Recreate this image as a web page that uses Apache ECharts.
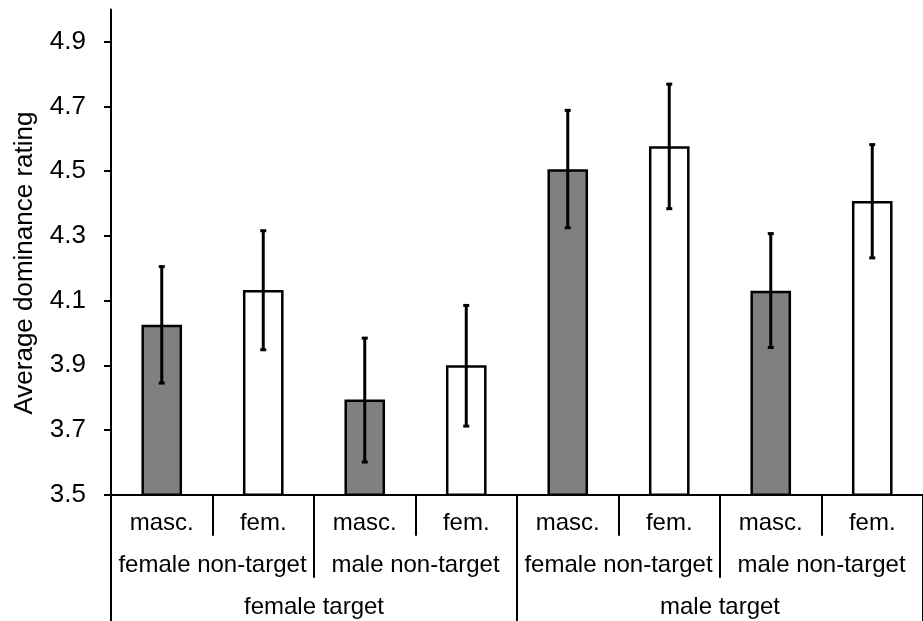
<!DOCTYPE html>
<html>
<head>
<meta charset="utf-8">
<script src="https://cdn.jsdelivr.net/npm/echarts@6/dist/echarts.min.js"></script>
<style>
  html, body { margin: 0; padding: 0; background: #fff; }
  #chart { width: 923px; height: 621px; }
</style>
</head>
<body>
<div id="chart"></div>
<script>
// bottom row: style of the non-target
const styleLabels = ['masc.', 'fem.', 'masc.', 'fem.', 'masc.', 'fem.', 'masc.', 'fem.']
// middle row: non-target gender
const nonTargetLabels = ['female non-target', 'male non-target', 'female non-target', 'male non-target']
// top row: target gender
const targetLabels = ['female target', 'male target']

const means = [4.025, 4.133, 3.794, 3.900, 4.506, 4.577, 4.130, 4.408]
const lower = [3.845, 3.948, 3.601, 3.712, 4.325, 4.384, 3.955, 4.232]
const upper = [4.205, 4.316, 3.984, 4.085, 4.688, 4.769, 4.307, 4.582]

const yTicks = [3.5, 3.7, 3.9, 4.1, 4.3, 4.5, 4.7, 4.9]

const fontFam = '"Liberation Sans", Arial, sans-serif'
const black = '#000'

const chart = echarts.init(document.getElementById('chart'))

// 柱子：masc. 灰色，fem. 白色
const barData = means.map((v, i) => ({
  value: v,
  itemStyle: { color: i % 2 === 0 ? '#808080' : '#fff' }
}))

function catAxis(data, len, margin, show) {
  return {
    type: 'category',
    data: data,
    position: 'bottom',
    boundaryGap: true,
    axisLine: { show: show, lineStyle: { color: black, width: 2 } },
    axisTick: { show: true, length: len, lineStyle: { color: black, width: 2 } },
    axisLabel: { margin: margin, fontSize: 24, color: black, fontFamily: fontFam, interval: 0 },
    splitLine: { show: false }
  }
}

chart.setOption({
  animation: false,
  grid: { left: 111, right: -10.4, top: 9.4, bottom: 126.3 },
  xAxis: [
    catAxis(styleLabels, 41, 17, true),
    catAxis(nonTargetLabels, 83, 59, false),
    catAxis(targetLabels, 130, 101, false)
  ],
  yAxis: {
    type: 'value',
    min: 3.5,
    max: 5.0,
    name: 'Average dominance rating',
    nameLocation: 'middle',
    nameGap: 73,
    nameTextStyle: { fontSize: 26, color: black, fontFamily: fontFam, padding: [0, 22, 0, 0] },
    axisLine: { show: true, lineStyle: { color: black, width: 2 } },
    axisTick: { show: true, length: 7, customValues: yTicks, lineStyle: { color: black, width: 2 } },
    axisLabel: {
      customValues: yTicks,
      margin: 25,
      fontSize: 26,
      color: black,
      fontFamily: fontFam,
      formatter: v => v.toFixed(1)
    },
    splitLine: { show: false }
  },
  series: [
    {
      type: 'bar',
      xAxisIndex: 0,
      barWidth: '40%',
      data: barData,
      itemStyle: { borderColor: black, borderWidth: 2.5 }
    },
    {
      // 误差线
      type: 'custom',
      xAxisIndex: 0,
      data: means.map((v, i) => [i, lower[i], upper[i]]),
      renderItem: (params, api) => {
        const lo = api.coord([api.value(0), api.value(1)])
        const hi = api.coord([api.value(0), api.value(2)])
        const cap = 3
        const style = { stroke: black, lineWidth: 3 }
        return {
          type: 'group',
          children: [
            { type: 'line', shape: { x1: lo[0], y1: lo[1], x2: hi[0], y2: hi[1] }, style },
            { type: 'line', shape: { x1: hi[0] - cap, y1: hi[1], x2: hi[0] + cap, y2: hi[1] }, style },
            { type: 'line', shape: { x1: lo[0] - cap, y1: lo[1], x2: lo[0] + cap, y2: lo[1] }, style }
          ]
        }
      },
      z: 10
    }
  ]
})
</script>
</body>
</html>
